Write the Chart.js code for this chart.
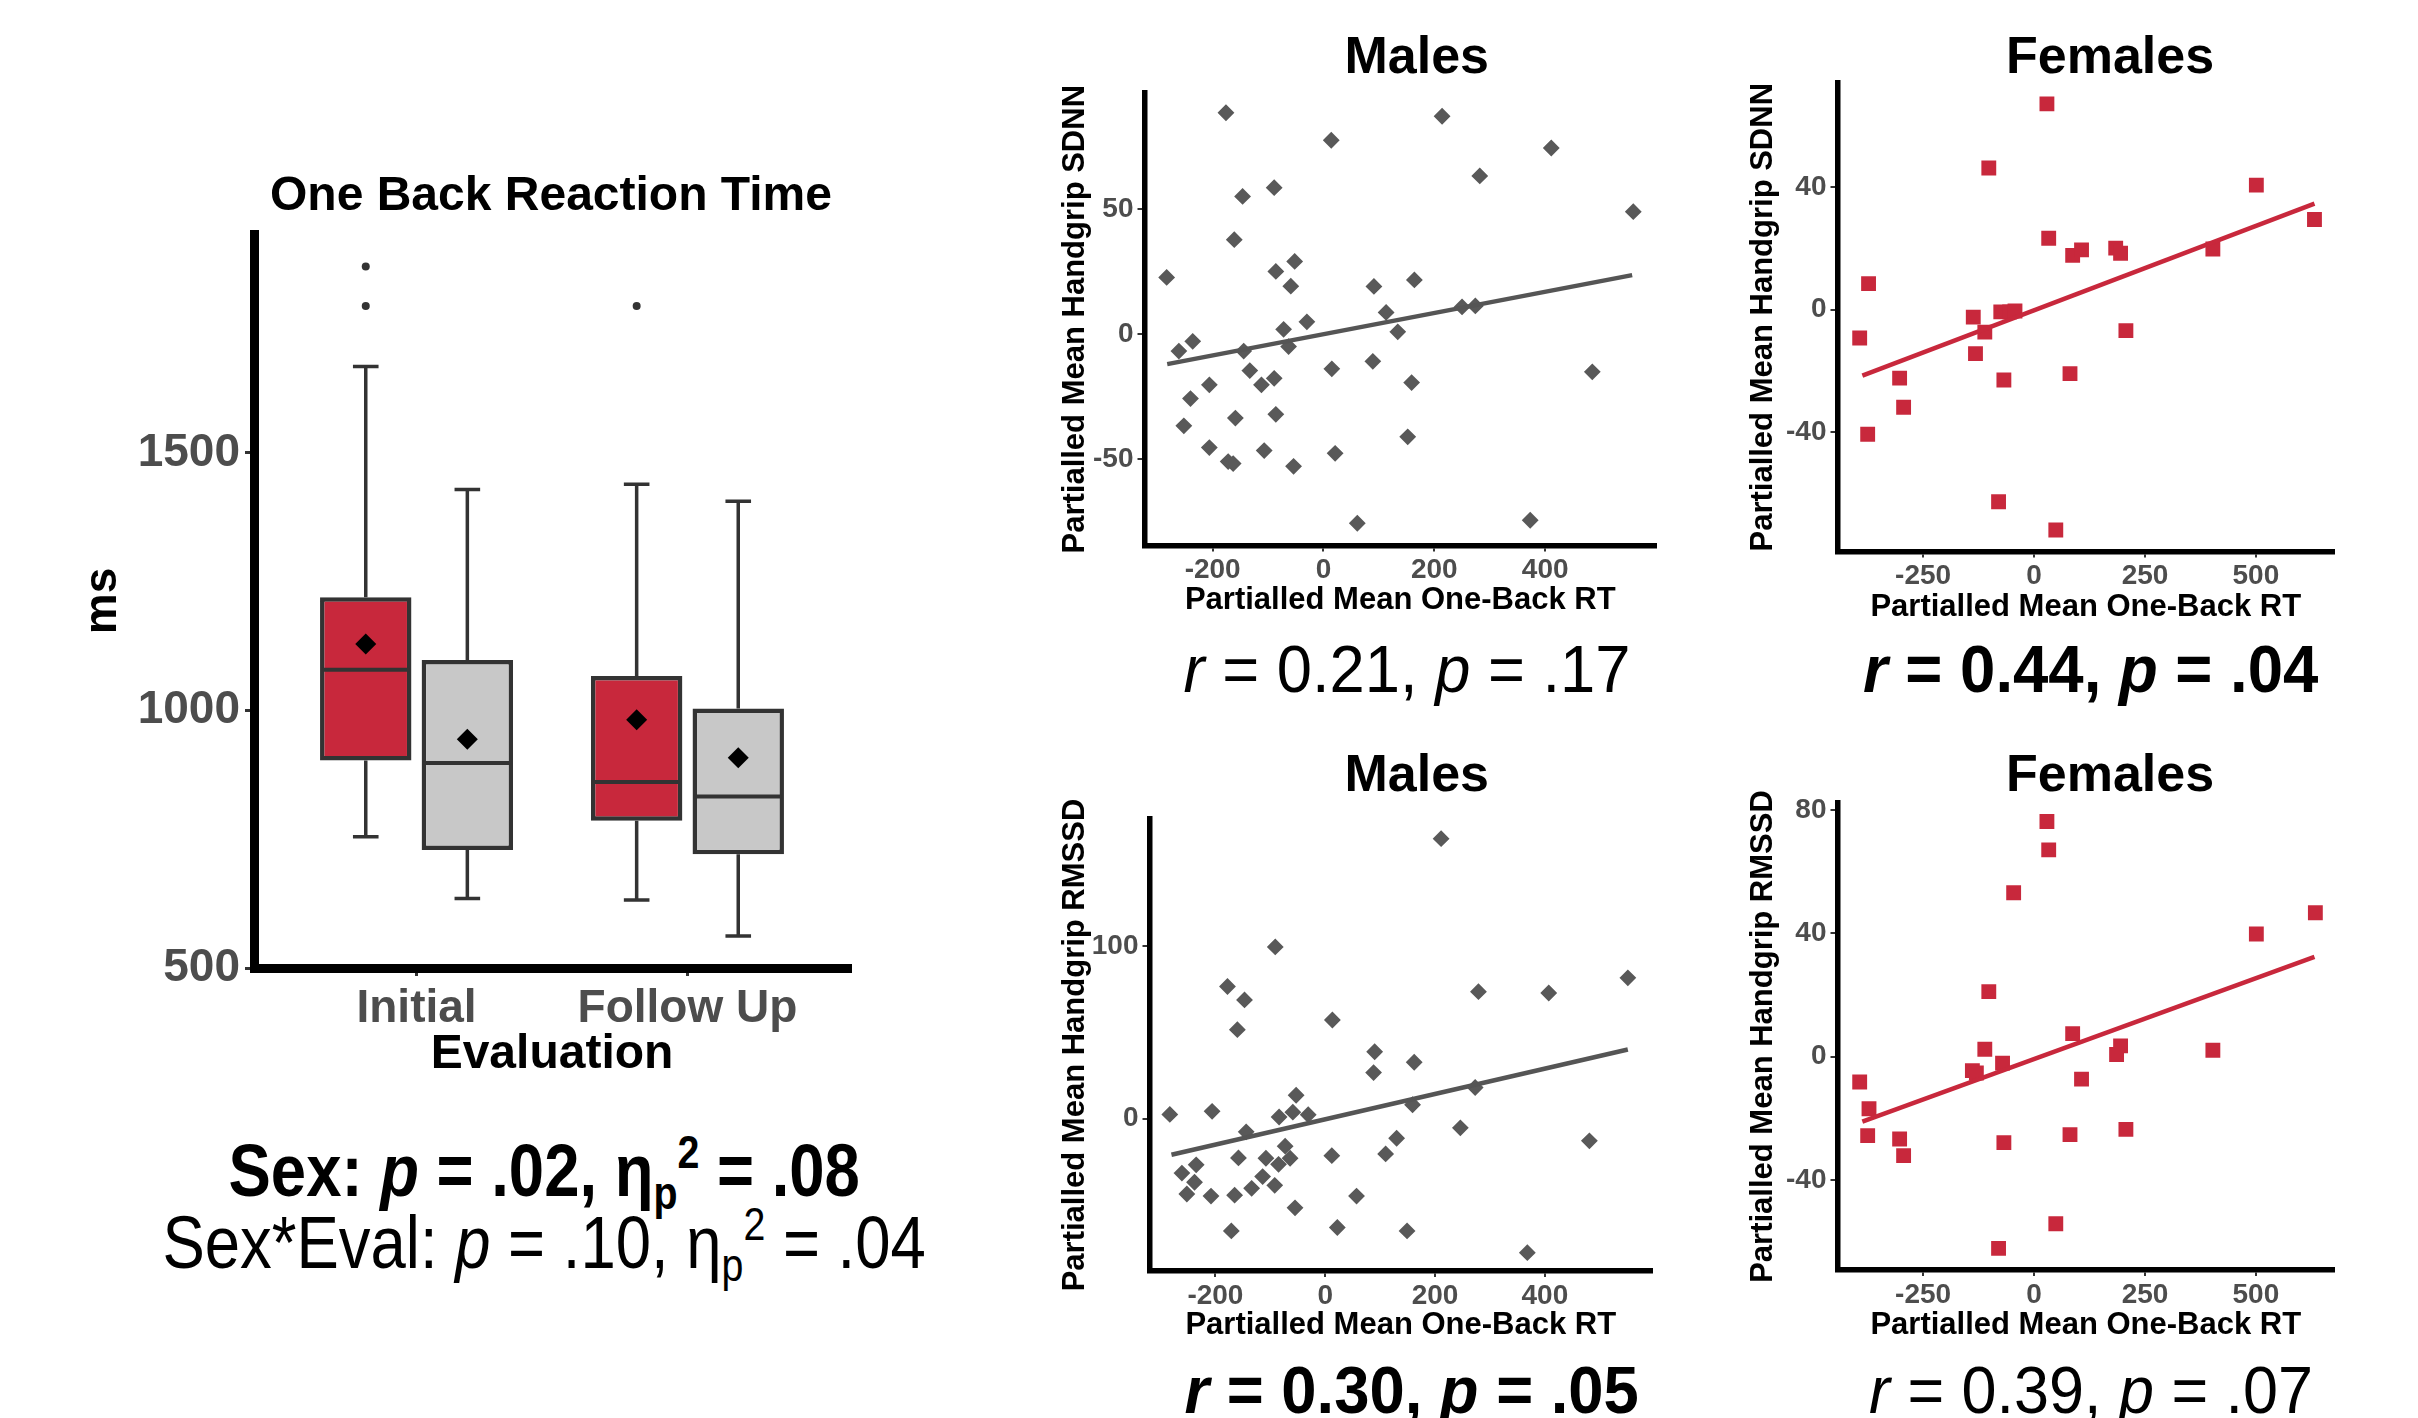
<!DOCTYPE html>
<html><head><meta charset="utf-8">
<script src="https://cdn.jsdelivr.net/npm/chart.js@4.4.0/dist/chart.umd.min.js"></script>
<style>
html,body{margin:0;padding:0;background:#fff;width:2418px;height:1418px;overflow:hidden;}
#stage{position:relative;width:2418px;height:1418px;}
.cv{position:absolute;}
.txt{position:absolute;white-space:nowrap;line-height:1;font-family:"Liberation Sans",Arial,sans-serif;color:#000;transform-origin:center center;}
.sb{position:relative;font-size:0.62em;top:0.28em;line-height:0;}
.sp{position:relative;font-size:0.62em;top:-0.62em;line-height:0;}
</style></head><body><div id="stage"></div>
<script>
// ---------------- DATA ----------------
const boxCategories = ['Initial', 'Follow Up'];
const boxYTicks = [500, 1000, 1500];
const maleQ1 = [903, 786];
const maleMedian = [1079, 861];
const maleQ3 = [1220, 1067];
const maleWhiskerLow = [755, 632];
const maleWhiskerHigh = [1668, 1439];
const maleMean = [1129, 982];
const maleOutliers = [[1785, 1862], [1785]];
const femaleQ1 = [729, 721];
const femaleMedian = [898, 833];
const femaleQ3 = [1098, 1004];
const femaleWhiskerLow = [635, 562];
const femaleWhiskerHigh = [1429, 1406];
const femaleMean = [944, 908];
const femaleOutliers = [[], []];

// Males: SDNN vs one-back RT
const maleSdnnRT = [-176,214,14,411,282,-89,-146,559,-161,-52,-86,-283,164,-59,91,113,-30,250,274,-72,134,-236,-261,-144,-63,89,15,485,-133,-89,-206,-112,159,-240,-86,-159,-252,152,-206,-107,21,-172,-163,-54,61,373];
const maleSdnn = [88.6,87.2,77.6,74.5,63.3,58.6,55.1,49.0,37.8,29.1,25.1,22.7,21.7,19.2,19.1,8.7,4.9,10.9,11.3,1.9,0.9,-2.9,-6.8,-6.8,-5.0,-10.9,-13.9,-15.1,-14.6,-17.7,-20.3,-20.3,-19.4,-25.8,-32.1,-33.6,-36.7,-41.1,-45.4,-46.6,-47.7,-51.0,-51.8,-52.9,-75.7,-74.5];
const maleSdnnFitX = [-282, 557];
const maleSdnnFitY = [-12.0, 23.6];

// Females: SDNN vs one-back RT
const femaleSdnnRT = [29,-102,501,632,33,87,107,184,195,403,-373,-137,-75,-55,-43,-111,-393,207,-132,-303,-68,81,-294,-375,-80,49];
const femaleSdnn = [67.1,46.2,40.6,29.4,23.3,17.7,19.5,20.1,18.4,19.8,8.5,-2.4,-0.7,-0.7,-0.4,-7.3,-9.2,-6.8,-14.3,-22.3,-22.9,-20.8,-31.8,-40.6,-62.6,-71.8];
const femaleSdnnFitX = [-387, 632];
const femaleSdnnFitY = [-21.5, 34.6];

// Males: RMSSD vs one-back RT
const maleRmssdRT = [211,-91,551,-178,279,407,-147,-160,13,90,162,88,273,-53,159,-283,-206,-84,-59,-31,-144,246,130,481,-73,-158,-108,-64,12,110,-235,-85,-261,-114,-238,-134,-92,-252,-208,-165,57,-55,-171,22,149,368];
const maleRmssd = [162.2,99.5,81.6,76.6,73.6,72.8,68.8,51.6,57.2,38.8,32.7,26.7,18.1,13.6,8.1,2.5,4.3,1.0,3.8,2.3,-7.6,-5.3,-11.3,-12.8,-15.9,-22.7,-22.9,-22.9,-21.4,-20.4,-26.7,-26.4,-31.5,-33.5,-36.8,-40.3,-38.6,-43.6,-44.8,-44.3,-44.8,-51.6,-65.0,-63.0,-65.0,-77.6];
const maleRmssdFitX = [-280, 551];
const maleRmssdFitY = [-20.9, 40.1];

// Females: RMSSD vs one-back RT
const femaleRmssdRT = [29,33,-46,634,501,-102,87,-111,195,186,403,-71,-139,-130,107,-393,-372,-375,-303,81,207,-68,-294,49,-80];
const femaleRmssd = [76.3,67.1,53.2,46.7,39.8,21.1,7.5,2.4,3.5,0.7,2.1,-2.1,-4.5,-5.3,-7.3,-8.2,-16.9,-25.6,-26.7,-25.3,-23.6,-27.9,-32.1,-54.2,-62.2];
const femaleRmssdFitX = [-387, 632];
const femaleRmssdFitY = [-21.1, 32.4];

const rtTicksMale = [-200, 0, 200, 400];
const rtTicksFemale = [-250, 0, 250, 500];
const sdnnTicksMale = [-50, 0, 50];
const sdnnTicksFemale = [-40, 0, 40];
const rmssdTicksMale = [0, 100];
const rmssdTicksFemale = [-40, 0, 40, 80];

// ---------------- STYLE ----------------
const RED = '#C8283C';
const GRAY_BOX = '#C8C8C8';
const DARK = '#333333';
const MALE_PT = '#595959';
const TICK_COLOR = '#4D4D4D';
const FONT = '"Liberation Sans", Arial, sans-serif';

const stage = document.getElementById('stage');

function makeCanvas(rect) {
  const c = document.createElement('canvas');
  c.className = 'cv';
  c.width = rect.w; c.height = rect.h;
  c.style.left = rect.x + 'px'; c.style.top = rect.y + 'px';
  c.style.width = rect.w + 'px'; c.style.height = rect.h + 'px';
  stage.appendChild(c);
  return c;
}

function addText(html, o) {
  const d = document.createElement('div');
  d.className = 'txt';
  d.innerHTML = html;
  d.style.fontSize = o.size + 'px';
  d.style.fontWeight = o.weight || 'normal';
  d.style.color = o.color || '#000';
  stage.appendChild(d);
  const w = d.offsetWidth;
  const sx = o.width ? o.width / w : 1;
  d.style.left = (o.cx - w / 2) + 'px';
  d.style.top = (o.baseline - 0.8465 * o.size) + 'px';
  d.style.transform = 'scaleX(' + sx + ')';
  return d;
}

const plainNumber = v => String(v);

// ---------------- BOX PLOT ----------------
const boxStats = [
  {q1: maleQ1, med: maleMedian, q3: maleQ3, lo: maleWhiskerLow, hi: maleWhiskerHigh, mean: maleMean, out: maleOutliers},
  {q1: femaleQ1, med: femaleMedian, q3: femaleQ3, lo: femaleWhiskerLow, hi: femaleWhiskerHigh, mean: femaleMean, out: femaleOutliers}
];

const boxExtras = {
  id: 'boxExtras',
  beforeDatasetsDraw(chart) {
    const ctx = chart.ctx, ys = chart.scales.y;
    ctx.save();
    ctx.strokeStyle = DARK; ctx.lineWidth = 3.5; ctx.lineCap = 'butt';
    boxStats.forEach((st, di) => {
      chart.getDatasetMeta(di).data.forEach((el, i) => {
        const cap = el.width * 0.28;
        [[st.q3[i], st.hi[i]], [st.q1[i], st.lo[i]]].forEach(([a, b]) => {
          const ya = ys.getPixelForValue(a), yb = ys.getPixelForValue(b);
          ctx.beginPath();
          ctx.moveTo(el.x, ya); ctx.lineTo(el.x, yb);
          ctx.moveTo(el.x - cap / 2, yb); ctx.lineTo(el.x + cap / 2, yb);
          ctx.stroke();
        });
      });
    });
    ctx.restore();
  },
  afterDatasetsDraw(chart) {
    const ctx = chart.ctx, ys = chart.scales.y;
    ctx.save();
    boxStats.forEach((st, di) => {
      chart.getDatasetMeta(di).data.forEach((el, i) => {
        const half = el.width / 2;
        const ym = ys.getPixelForValue(st.med[i]);
        ctx.strokeStyle = DARK; ctx.lineWidth = 4;
        ctx.beginPath(); ctx.moveTo(el.x - half + 2, ym); ctx.lineTo(el.x + half - 2, ym); ctx.stroke();
        const yMean = ys.getPixelForValue(st.mean[i]);
        const r = 10.5;
        ctx.fillStyle = '#000';
        ctx.beginPath();
        ctx.moveTo(el.x, yMean - r); ctx.lineTo(el.x + r, yMean); ctx.lineTo(el.x, yMean + r); ctx.lineTo(el.x - r, yMean);
        ctx.closePath(); ctx.fill();
        ctx.fillStyle = DARK;
        st.out[i].forEach(v => {
          ctx.beginPath(); ctx.arc(el.x, ys.getPixelForValue(v), 4, 0, Math.PI * 2); ctx.fill();
        });
      });
    });
    ctx.restore();
  }
};

function fixedTicks(values) {
  return function (scale) { scale.ticks = values.map(v => ({value: v})); };
}

(function () {
  const rect = {x: 0, y: 150, w: 900, h: 950};
  const area = {l: 254, r: 850, t: 234, b: 968};
  const c = makeCanvas(rect);
  new Chart(c, {
    type: 'bar',
    data: {
      datasets: [
        {label: 'Male', data: boxCategories.map((c, i) => ({x: i + 1, y: [maleQ1[i], maleQ3[i]]})),
          backgroundColor: RED, borderColor: DARK, borderWidth: 4.5, borderSkipped: false,
          categoryPercentage: 0.75, barPercentage: 0.9},
        {label: 'Female', data: boxCategories.map((c, i) => ({x: i + 1, y: [femaleQ1[i], femaleQ3[i]]})),
          backgroundColor: GRAY_BOX, borderColor: DARK, borderWidth: 4.5, borderSkipped: false,
          categoryPercentage: 0.75, barPercentage: 0.9}
      ]
    },
    options: {
      responsive: false, animation: false, devicePixelRatio: 1,
      layout: {padding: {left: 0, right: rect.x + rect.w - area.r, top: area.t - rect.y, bottom: 0}, autoPadding: false},
      plugins: {legend: {display: false}, tooltip: {enabled: false}, title: {display: false}},
      scales: {
        x: {
          type: 'linear', min: 0.4, max: 2.6, offset: false,
          afterBuildTicks: fixedTicks([1, 2]),
          afterFit: s => { s.height = rect.y + rect.h - area.b; },
          ticks: {callback: (v, i) => boxCategories[i], color: TICK_COLOR, font: {family: FONT, size: 46, weight: 'bold'}, padding: 6, maxRotation: 0, autoSkip: false},
          grid: {display: true, drawOnChartArea: false, drawTicks: true, tickLength: 8, color: DARK, lineWidth: 3, offset: false},
          border: {display: true, color: '#000', width: 9},
          title: {display: true, text: 'Evaluation', color: '#000', font: {family: FONT, size: 48, weight: 'bold'}, padding: {top: 0, bottom: 16}}
        },
        y: {
          min: 500, max: 1925,
          afterBuildTicks: fixedTicks(boxYTicks),
          afterFit: s => { s.width = area.l - rect.x; },
          ticks: {callback: plainNumber, color: TICK_COLOR, font: {family: FONT, size: 46, weight: 'bold'}, padding: 5},
          grid: {display: true, drawOnChartArea: false, drawTicks: true, tickLength: 9, color: DARK, lineWidth: 3},
          border: {display: true, color: '#000', width: 9},
          title: {display: true, text: 'ms', color: '#000', font: {family: FONT, size: 46, weight: 'bold'}, padding: {top: 76, bottom: 0}}
        }
      }
    },
    plugins: [boxExtras]
  });
})();

// ---------------- SCATTER PLOTS ----------------
function makeScatter(o) {
  const rect = o.rect, area = o.area;
  const c = makeCanvas(rect);
  const pts = o.xs.map((x, i) => ({x: x, y: o.ys[i]}));
  const fit = o.fitX.map((x, i) => ({x: x, y: o.fitY[i]}));
  new Chart(c, {
    type: 'scatter',
    data: {
      datasets: [
        {type: 'line', data: fit, borderColor: o.lineColor, borderWidth: 4.5, pointRadius: 0, showLine: true, fill: false, order: 0},
        {data: pts, pointStyle: o.pointStyle, pointRadius: o.pointRadius, backgroundColor: o.pointColor, borderColor: o.pointColor, borderWidth: o.pointBorder, order: 1}
      ]
    },
    options: {
      responsive: false, animation: false, devicePixelRatio: 1,
      layout: {padding: {left: 0, right: rect.x + rect.w - area.r, top: area.t - rect.y, bottom: 0}, autoPadding: false},
      plugins: {legend: {display: false}, tooltip: {enabled: false}},
      scales: {
        x: {
          type: 'linear', min: o.xRange[0], max: o.xRange[1],
          afterBuildTicks: fixedTicks(o.xTicks),
          afterFit: s => { s.height = rect.y + rect.h - area.b; },
          ticks: {callback: plainNumber, color: TICK_COLOR, font: {family: FONT, size: 28, weight: 'bold'}, padding: 2, maxRotation: 0, autoSkip: false},
          grid: {display: true, drawOnChartArea: false, drawTicks: true, tickLength: 6, color: DARK, lineWidth: 2},
          border: {display: true, color: '#000', width: 5.5},
          title: {display: true, text: 'Partialled Mean One-Back RT', color: '#000', font: {family: FONT, size: 31, weight: 'bold'}, padding: {top: 0, bottom: rect.y + rect.h - o.xTitleY - 18.6}}
        },
        y: {
          type: 'linear', min: o.yRange[0], max: o.yRange[1],
          afterBuildTicks: fixedTicks(o.yTicks),
          afterFit: s => { s.width = area.l - rect.x; },
          ticks: {callback: plainNumber, color: TICK_COLOR, font: {family: FONT, size: 28, weight: 'bold'}, padding: 4},
          grid: {display: true, drawOnChartArea: false, drawTicks: true, tickLength: 7, color: DARK, lineWidth: 2},
          border: {display: true, color: '#000', width: 5.5},
          title: {display: true, text: o.yTitle, color: '#000', font: {family: FONT, size: 31, weight: 'bold'}, padding: {top: o.yTitleX - rect.x - 18.6, bottom: 0}}
        }
      }
    }
  });
}

makeScatter({
  rect: {x: 1030, y: 60, w: 660, h: 580}, area: {l: 1144.5, r: 1656, t: 93, b: 545.5},
  xs: maleSdnnRT, ys: maleSdnn, fitX: maleSdnnFitX, fitY: maleSdnnFitY,
  xRange: [-323, 600], yRange: [-84.6, 96.5], xTicks: rtTicksMale, yTicks: sdnnTicksMale,
  yTitle: 'Partialled Mean Handgrip SDNN', xTitleY: 600, yTitleX: 1075,
  pointStyle: 'rectRot', pointRadius: 7, pointBorder: 2, pointColor: MALE_PT, lineColor: '#555555'
});
makeScatter({
  rect: {x: 1720, y: 60, w: 660, h: 590}, area: {l: 1837.5, r: 2334, t: 83, b: 551.5},
  xs: femaleSdnnRT, ys: femaleSdnn, fitX: femaleSdnnFitX, fitY: femaleSdnnFitY,
  xRange: [-443, 676], yRange: [-78.8, 73.9], xTicks: rtTicksFemale, yTicks: sdnnTicksFemale,
  yTitle: 'Partialled Mean Handgrip SDNN', xTitleY: 607, yTitleX: 1763,
  pointStyle: 'rect', pointRadius: 10.5, pointBorder: 0, pointColor: RED, lineColor: RED
});
makeScatter({
  rect: {x: 1030, y: 790, w: 660, h: 570}, area: {l: 1149.5, r: 1652, t: 819, b: 1271},
  xs: maleRmssdRT, ys: maleRmssd, fitX: maleRmssdFitX, fitY: maleRmssdFitY,
  xRange: [-320, 595], yRange: [-88.2, 173.6], xTicks: rtTicksMale, yTicks: rmssdTicksMale,
  yTitle: 'Partialled Mean Handgrip RMSSD', xTitleY: 1325, yTitleX: 1075,
  pointStyle: 'rectRot', pointRadius: 7, pointBorder: 2, pointColor: MALE_PT, lineColor: '#555555'
});
makeScatter({
  rect: {x: 1720, y: 780, w: 660, h: 580}, area: {l: 1837.5, r: 2334, t: 803, b: 1270},
  xs: femaleRmssdRT, ys: femaleRmssd, fitX: femaleRmssdFitX, fitY: femaleRmssdFitY,
  xRange: [-443, 676], yRange: [-69.2, 82.3], xTicks: rtTicksFemale, yTicks: rmssdTicksFemale,
  yTitle: 'Partialled Mean Handgrip RMSSD', xTitleY: 1325, yTitleX: 1763,
  pointStyle: 'rect', pointRadius: 10.5, pointBorder: 0, pointColor: RED, lineColor: RED
});

// ---------------- TEXT ----------------
addText('One Back Reaction Time', {cx: 551, baseline: 211, size: 48, weight: 'bold'});
addText('Sex: <i>p</i> = .02, η<span class="sb">p</span><span class="sp">2</span> = .08', {cx: 544, baseline: 1197, size: 74, weight: 'bold', width: 631});
addText('Sex*Eval: <i>p</i> = .10, η<span class="sb">p</span><span class="sp">2</span> = .04', {cx: 544, baseline: 1269, size: 74, weight: 'normal', width: 763});

addText('Males', {cx: 1417, baseline: 73, size: 52, weight: 'bold'});
addText('Females', {cx: 2110, baseline: 73, size: 52, weight: 'bold'});
addText('Males', {cx: 1417, baseline: 791, size: 52, weight: 'bold'});
addText('Females', {cx: 2110, baseline: 791, size: 52, weight: 'bold'});

addText('<i>r</i> = 0.21, <i>p</i> = .17', {cx: 1407, baseline: 692, size: 66, weight: 'normal', width: 447});
addText('<i>r</i> = 0.44, <i>p</i> = .04', {cx: 2090, baseline: 692, size: 66, weight: 'bold', width: 455});
addText('<i>r</i> = 0.30, <i>p</i> = .05', {cx: 1411, baseline: 1413, size: 66, weight: 'bold', width: 454});
addText('<i>r</i> = 0.39, <i>p</i> = .07', {cx: 2091, baseline: 1413, size: 66, weight: 'normal', width: 444});
</script></body></html>
